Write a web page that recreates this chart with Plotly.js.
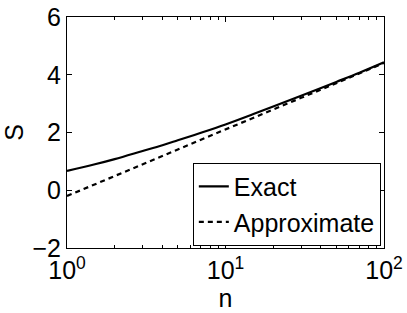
<!DOCTYPE html>
<html>
<head>
<meta charset="utf-8">
<script src="https://cdn.plot.ly/plotly-3.0.1.min.js"></script>
<style>html,body{margin:0;padding:0;background:#fff;}#chart{width:407px;height:313px;}</style>
</head>
<body>
<div id="chart"></div>
<script>
const nValues = [1, 1.5, 2, 3, 4, 5, 7, 10, 15, 20, 30, 50, 70, 100];
const exactS = [0.67, 0.9, 1.08, 1.36, 1.56, 1.73, 1.99, 2.28, 2.64, 2.9, 3.27, 3.75, 4.07, 4.43];
const approxS = [-0.2, 0.2, 0.49, 0.9, 1.19, 1.41, 1.75, 2.1, 2.51, 2.8, 3.2, 3.71, 4.05, 4.41];
const xTickVals = [1, 10, 100];
const xTickText = ['10<sup>0</sup>', '10<sup>1</sup>', '10<sup>2</sup>'];
const xMinorVals = [2,3,4,5,6,7,8,9,20,30,40,50,60,70,80,90];
const yTickVals = [-2, 0, 2, 4, 6];
const yTickText = ['\u22122', '0', '2', '4', '6'];

const fam = 'Liberation Sans, Arial, Helvetica, sans-serif';
const font = {family: fam, size: 25, color: '#000'};

const traces = [
  {x: nValues, y: exactS, type: 'scatter', mode: 'lines', name: 'Exact',
   line: {color: '#000', width: 2.2, shape: 'spline'}},
  {x: nValues, y: approxS, type: 'scatter', mode: 'lines', name: 'Approximate',
   line: {color: '#000', width: 2.2, dash: '5px,4px'}}
];

const layout = {
  width: 407, height: 313,
  margin: {l: 67, r: 23, t: 17, b: 65},
  paper_bgcolor: '#fff', plot_bgcolor: '#fff',
  font: font,
  showlegend: true,
  legend: {x: 0.99, xanchor: 'right', y: 0.01, yanchor: 'bottom',
           bgcolor: '#fff', bordercolor: '#000', borderwidth: 1,
           font: {family: fam, size: 25, color: '#000'},
           tracegroupgap: 0, itemwidth: 30},
  xaxis: {type: 'log', range: [0, 2], tickmode: 'array', tickvals: xTickVals, ticktext: xTickText,
          ticks: 'inside', ticklen: 5, tickcolor: '#000', showline: true, linecolor: '#000', linewidth: 1,
          mirror: 'ticks', showgrid: false, zeroline: false,
          minor: {tickmode: 'array', tickvals: xMinorVals, ticks: 'inside', ticklen: 3, tickcolor: '#000', showgrid: false},
          title: {text: 'n', font: font, standoff: 0}, tickfont: font},
  yaxis: {range: [-2, 6], tickmode: 'array', tickvals: yTickVals, ticktext: yTickText,
          ticks: 'inside', ticklen: 5, tickcolor: '#000', showline: true, linecolor: '#000', linewidth: 1,
          mirror: 'ticks', showgrid: false, zeroline: false,
          title: {text: 'S', font: font, standoff: 10}, tickfont: font}
};

Plotly.newPlot('chart', traces, layout, {displayModeBar: false, staticPlot: true});
</script>
</body>
</html>
